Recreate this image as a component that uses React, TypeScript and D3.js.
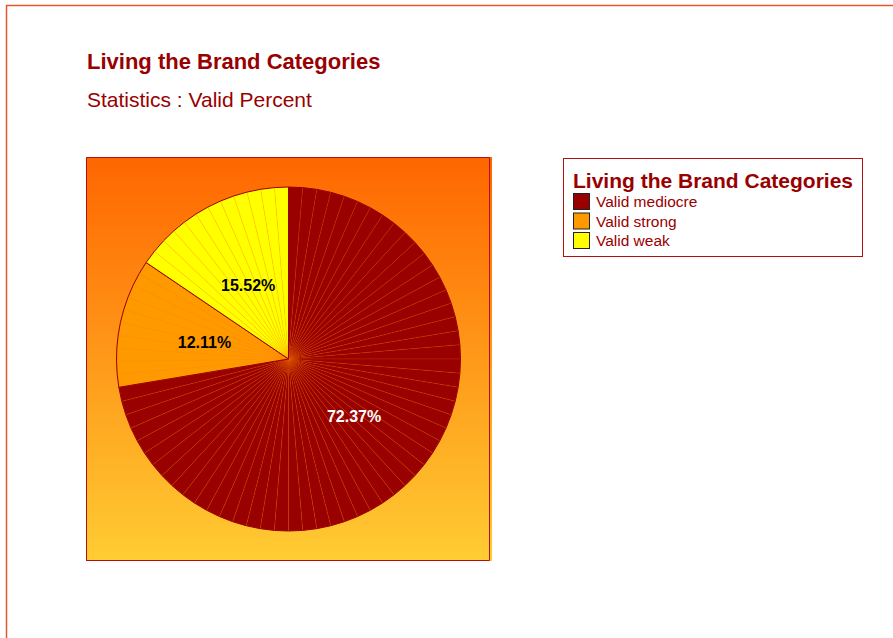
import React from "react";
import * as d3 from "d3";

const categories = ["Valid mediocre", "Valid strong", "Valid weak"];
const values = [72.37, 12.11, 15.52];
const colors = ["#990000", "#FF9900", "#FFFF00"];
const labelColors = ["#FFFFFF", "#000000", "#000000"];
const title = "Living the Brand Categories";
const subtitle = "Statistics : Valid Percent";

const W = 893;
const H = 638;
const cx = 288.5;
const cy = 359;
const R = 172;
const STEP = (4.8 * Math.PI) / 180;

export default function App() {
  const pie = d3.pie<number>().sort(null).value((d) => d)(values);
  const font = "'Liberation Sans', Arial, Helvetica, sans-serif";

  const pt = (a: number, r: number) => [cx + r * Math.sin(a), cy - r * Math.cos(a)];

  const slices = pie.map((p, i) => {
    const n = Math.max(1, Math.ceil((p.endAngle - p.startAngle) / STEP));
    const angs = d3.range(n + 1).map((k) => p.startAngle + ((p.endAngle - p.startAngle) * k) / n);
    const verts = angs.map((a) => pt(a, R));
    const outline = [[cx, cy], ...verts];
    const segs = d3.range(n).map((k) => [[cx, cy], verts[k], verts[k + 1]]);
    const mid = (p.startAngle + p.endAngle) / 2;
    const lp = pt(mid, R / 2);
    return { i, outline, segs, verts, lp };
  });

  const poly = (pts: number[][]) => pts.map((q) => q.join(",")).join(" ");

  return (
    <svg
      width={W}
      height={H}
      style={{ position: "absolute", left: 0, top: 0, background: "#fff" }}
      fontFamily={font}
    >
      <defs>
        <linearGradient id="bg" x1="0" y1="0" x2="0" y2="1">
          <stop offset="0" stopColor="#FF6600" />
          <stop offset="1" stopColor="#FFCC33" />
        </linearGradient>
      </defs>
      <path d={`M6.5,${H} L6.5,5.5 L${W},5.5`} fill="none" stroke="#E8552F" strokeWidth={1.5} />

      <text x={87} y={69} fontSize={22} fontWeight="bold" fill="#990000">{title}</text>
      <text x={87} y={107} fontSize={21} fill="#990000">{subtitle}</text>

      <rect x={86} y={157} width={406} height={404} fill="url(#bg)" />
      <path d="M86.5,561 L86.5,157.5 L489.5,157.5 L489.5,560.5 L86.5,560.5" fill="none" stroke="#B01010" strokeWidth={1} />

      {slices.map((s) => (
        <g key={s.i}>
          {s.segs.map((sg, k) => (
            <polygon key={k} points={poly(sg)} fill={colors[s.i]} stroke="#FF7700" strokeOpacity={0.3} strokeWidth={0.5} />
          ))}
          <polygon points={poly(s.outline)} fill="none" stroke="#990000" strokeWidth={1} strokeLinejoin="round" />
        </g>
      ))}

      {slices.map((s) => (
        <text
          key={"l" + s.i}
          x={s.lp[0]}
          y={s.lp[1] + 2}
          dy="0.35em"
          textAnchor="middle"
          fontSize={16}
          fontWeight="bold"
          fill={labelColors[s.i]}
        >
          {d3.format(".2f")(values[s.i])}%
        </text>
      ))}

      <rect x={563.5} y={158.5} width={299} height={98} fill="#fff" stroke="#B01010" strokeWidth={1} />
      <text x={573} y={188} fontSize={21} fontWeight="bold" fill="#990000">{title}</text>
      {categories.map((c, i) => (
        <g key={c}>
          <rect x={573.5} y={193.5 + i * 19.5} width={16} height={16} fill={colors[i]} stroke="#222" strokeWidth={1} />
          <text x={596} y={207 + i * 19.5} fontSize={15.5} fill="#990000">{c}</text>
        </g>
      ))}
    </svg>
  );
}
